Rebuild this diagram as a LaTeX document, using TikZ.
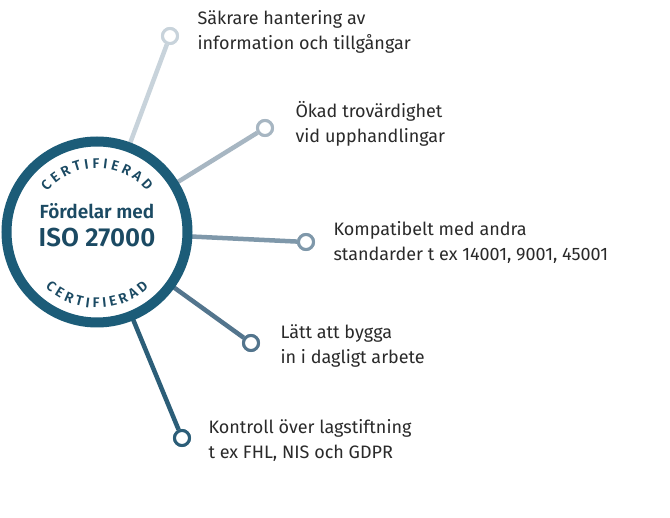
\documentclass[tikz,border=0pt]{standalone}
\usepackage{fontspec}
\setmainfont{Fira Sans}[BoldFont=Fira Sans SemiBold]
\usetikzlibrary{decorations.text}
\definecolor{ring}{HTML}{1C5C78}
\definecolor{dark}{HTML}{1B4A63}
\definecolor{txt}{HTML}{2A2A2A}
\definecolor{c1}{HTML}{C8D3DB}
\definecolor{c2}{HTML}{A7B6C2}
\definecolor{c3}{HTML}{7F98AA}
\definecolor{c4}{HTML}{53758D}
\definecolor{c5}{HTML}{2C5E78}
\begin{document}
\begin{tikzpicture}[x=1pt,y=-1pt,
  spoke/.style={line width=4.5pt},
  endpt/.style={circle,draw,line width=3pt,fill=white,minimum size=15pt,inner sep=0pt},
  lbl/.style={anchor=west,align=left,text=txt,font=\fontsize{18}{25}\selectfont}]
\useasboundingbox[fill=white] (0,0) rectangle (670,518);
\coordinate (ctr) at (97,232);
\node[endpt,draw=c1] (e1) at (170,36) {};
\node[endpt,draw=c2] (e2) at (265,128) {};
\node[endpt,draw=c3] (e3) at (306,242) {};
\node[endpt,draw=c4] (e4) at (251,343) {};
\node[endpt,draw=c5] (e5) at (182,438) {};
\draw[spoke,c1] (ctr) -- (e1);
\draw[spoke,c2] (ctr) -- (e2);
\draw[spoke,c3] (ctr) -- (e3);
\draw[spoke,c4] (ctr) -- (e4);
\draw[spoke,c5] (ctr) -- (e5);
\node[endpt,draw=c1] at (e1) {};
\node[endpt,draw=c2] at (e2) {};
\node[endpt,draw=c3] at (e3) {};
\node[endpt,draw=c4] at (e4) {};
\node[endpt,draw=c5] at (e5) {};
\node[circle,fill=white,draw=ring,line width=10pt,minimum size=181pt] (badge) at (ctr) {};
\node[text=dark,font=\bfseries\fontsize{19}{20}\selectfont] (t1) at (97,211) {Fördelar med};
\node[text=dark,font=\bfseries\fontsize{26}{28}\selectfont] (t2) at (97,238) {ISO 27000};
\begin{scope}[shift={(ctr)},x=1pt,y=1pt]
\path[decorate,decoration={text along path,text align=center,
  text={|\bfseries\fontsize{14}{14}\selectfont\color{dark}|C E R T I F I E R A D}}]
  (160:64pt) arc[start angle=160,end angle=20,radius=64pt];
\path[decorate,decoration={text along path,text align=center,
  text={|\bfseries\fontsize{14}{14}\selectfont\color{dark}|C E R T I F I E R A D}}]
  (200:76pt) arc[start angle=200,end angle=340,radius=76pt];
\end{scope}
\node[lbl] (l1) at (194,32) {Säkrare hantering av\\information och tillgångar};
\node[lbl] (l2) at (292,124) {Ökad trovärdighet\\vid upphandlingar};
\node[lbl] (l3) at (330,242) {Kompatibelt med andra\\standarder t ex 14001, 9001, 45001};
\node[lbl] (l4) at (277,346) {Lätt att bygga\\in i dagligt arbete};
\node[lbl] (l5) at (205,440) {Kontroll över lagstiftning\\t ex FHL, NIS och GDPR};
\end{tikzpicture}
\end{document}
